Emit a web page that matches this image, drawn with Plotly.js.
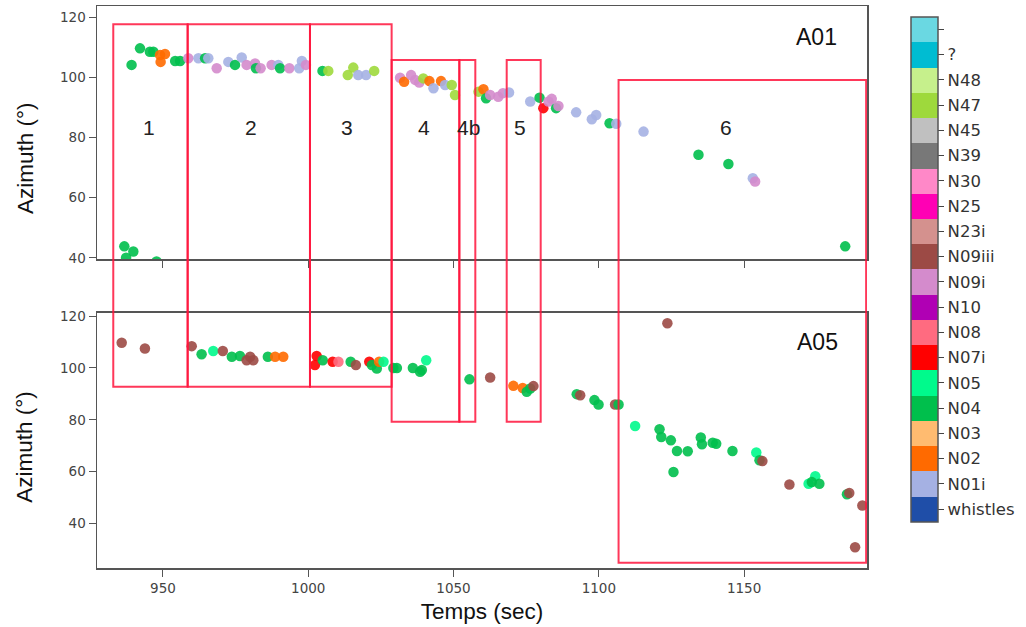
<!DOCTYPE html>
<html>
<head>
<meta charset="utf-8">
<script src="https://cdn.plot.ly/plotly-3.0.1.min.js"></script>
<style>html,body{margin:0;padding:0;background:#fff;}#chart{width:1026px;height:627px;}</style>
</head>
<body>
<div id="chart"></div>
<script>
// Call categories (bottom to top of the colour bar) and their colours
const categories = ["whistles","N01i","N02","N03","N04","N05","N07i","N08","N10","N09i","N09iii","N23i","N25","N30","N39","N45","N47","N48","?",""];
const categoryColors = ["#1f4ea8","#a5b1e3","#ff6a00","#ffbb70","#00bf4c","#00fa8c","#ff0000","#ff6b80","#b000b4","#d48bcc","#9c4a45","#d4918e","#ff00b4","#ff88c8","#787878","#c0c0c0","#9ed93c","#c6f08c","#00bcd2","#6ad8e2"];

// Hydrophone A01
const a01_time = [939.2,942.1,945.5,946.7,949.0,950.7,949.2,954.2,955.9,958.7,962.2,964.5,965.6,968.5,972.5,974.8,977.1,978.8,981.7,982.0,983.6,987.4,989.7,990.3,993.5,996.9,997.8,999.2,1004.9,1006.9,1013.6,1015.5,1017.2,1019.9,1022.7,1031.6,1033.0,1035.4,1036.8,1038.2,1039.6,1041.7,1043.1,1045.7,1047.1,1049.4,1050.5,1058.6,1060.3,1061.2,1062.6,1065.4,1067.0,1069.1,1076.4,1079.6,1080.9,1082.7,1083.8,1085.3,1086.1,1092.2,1097.6,1099.1,1103.7,1106.0,1115.4,1134.3,1144.6,1153.0,1153.8,1184.8,936.7,939.8,937.3,947.8];
const a01_azimuth = [104.2,109.7,108.6,108.6,107.5,107.8,105.2,105.5,105.5,106.4,106.4,106.4,106.4,103.1,105.2,104.2,106.7,104.2,104.7,103.1,103.1,104.2,104.2,103.1,103.1,103.1,105.5,104.2,102.2,102.2,100.8,103.3,100.8,100.8,102.2,99.9,98.6,100.8,99.2,98.3,99.7,98.8,96.4,98.8,97.5,97.5,94.2,95.3,96.1,93.1,94.2,93.6,94.8,95.0,92.0,93.3,89.8,92.0,92.9,89.8,90.5,88.4,86.1,87.5,84.8,84.6,82.0,74.3,71.2,66.5,65.4,43.8,43.8,42.1,40.0,38.8];
const a01_call = ["N04","N04","N04","N04","N02","N02","N02","N04","N04","N09i","N01i","N04","N01i","N09i","N01i","N04","N01i","N09i","N09i","N04","N09i","N09i","N01i","N04","N09i","N01i","N01i","N09i","N04","N47","N47","N47","N01i","N01i","N47","N09i","N02","N09i","N09i","N09i","N47","N02","N01i","N02","N01i","N47","N47","N47","N02","N04","N09i","N09i","N09i","N01i","N01i","N04","N07i","N09i","N09i","N04","N09i","N01i","N01i","N01i","N04","N01i","N01i","N04","N04","N01i","N09i","N04","N04","N04","N04","N04"];

// Hydrophone A05
const a05_time = [935.8,943.8,959.9,963.3,967.3,970.6,973.7,976.5,978.8,980.0,981.1,986.1,988.6,991.4,1002.9,1002.3,1005.0,1008.4,1010.4,1014.6,1016.4,1021.0,1021.9,1023.6,1024.4,1025.9,1029.3,1030.5,1036.0,1038.5,1039.1,1040.6,1055.5,1062.6,1070.6,1073.8,1075.2,1076.4,1077.5,1092.4,1093.6,1098.5,1099.9,1105.6,1106.8,1123.6,1112.5,1120.9,1121.5,1124.8,1126.9,1125.7,1130.6,1135.1,1135.5,1139.2,1140.4,1146.0,1154.2,1155.3,1156.3,1165.6,1172.2,1174.5,1173.3,1175.9,1185.4,1186.2,1190.7,1188.2];
const a05_azimuth = [109.7,107.5,108.4,105.3,106.5,106.5,104.3,104.6,103.0,104.3,103.0,104.3,104.3,104.3,104.6,101.1,103.0,102.4,102.4,102.4,101.1,102.4,101.1,99.8,102.4,102.4,100.0,100.0,100.0,98.5,99.2,103.0,95.6,96.3,93.1,92.3,90.8,92.1,93.0,89.9,89.5,87.6,85.9,85.9,85.9,117.2,77.6,76.4,73.4,72.1,68.0,59.9,67.9,73.2,70.6,71.2,70.8,68.0,67.4,64.4,64.1,55.1,55.4,58.3,56.0,55.4,51.3,51.8,47.0,30.9];
const a05_call = ["N09iii","N09iii","N09iii","N04","N05","N09iii","N04","N04","N09iii","N09iii","N09iii","N04","N02","N02","N07i","N07i","N04","N07i","N08","N04","N09iii","N07i","N04","N04","N02","N05","N04","N04","N04","N04","N04","N05","N04","N09iii","N02","N02","N04","N04","N09iii","N04","N09iii","N04","N04","N09iii","N04","N09iii","N05","N04","N04","N04","N04","N04","N04","N04","N04","N04","N04","N04","N05","N04","N09iii","N09iii","N05","N05","N04","N04","N04","N09iii","N09iii","N09iii"];

// Analysis windows (start, end in seconds) and their labels
const windowLabels = ["1","2","3","4","4b","5","6"];
const windowStart = [932.9,958.5,1000.6,1028.7,1052.0,1068.3,1106.8];
const windowEnd   = [958.5,1000.6,1028.7,1052.0,1057.5,1080.0,1192.0];
const windowLabelX = [945.3,980.4,1013.4,1040.0,1055.2,1072.9,1143.7];

// ---- build ----
const n = categories.length;
const colorscale = [];
categoryColors.forEach((c, i) => { colorscale.push([i / n, c]); colorscale.push([(i + 1) / n, c]); });
const idx = arr => arr.map(c => categories.indexOf(c));

const tickFont = {family: "DejaVu Sans, sans-serif", size: 13.5, color: "#444"};
const titleFont = {family: "Liberation Sans, Arial, sans-serif", size: 22.5, color: "#111"};

const markerBase = {size: 10.5, opacity: 0.9, colorscale: colorscale, cmin: -0.5, cmax: n - 0.5, line: {width: 0}};

const traceA01 = {
  x: a01_time, y: a01_azimuth, type: "scatter", mode: "markers", name: "A01",
  xaxis: "x", yaxis: "y", hoverinfo: "x+y+text", text: a01_call,
  marker: Object.assign({}, markerBase, {
    color: idx(a01_call), showscale: true,
    colorbar: {
      x: 1.0568, xanchor: "left", xpad: 0, ypad: 0,
      y: 0.981, yanchor: "top", len: 0.8986, lenmode: "fraction",
      thickness: 27, thicknessmode: "pixels",
      outlinewidth: 1.5, outlinecolor: "#555", borderwidth: 0,
      tickmode: "array", tickvals: categories.map((_, i) => i), ticktext: categories,
      ticks: "outside", ticklen: 6, tickcolor: "#444", tickwidth: 1,
      tickfont: {family: "DejaVu Sans, sans-serif", size: 16.5, color: "#333"}
    }
  })
};
const traceA05 = {
  x: a05_time, y: a05_azimuth, type: "scatter", mode: "markers", name: "A05",
  xaxis: "x2", yaxis: "y2", hoverinfo: "x+y+text", text: a05_call,
  marker: Object.assign({}, markerBase, {color: idx(a05_call), showscale: false})
};

// window rectangles (spanning both panels, in paper units vertically)
const boxTop =    [0.9674,0.9674,0.9674,0.9039,0.9039,0.9039,0.8683];
const boxBottom = [0.3226,0.3226,0.3226,0.2603,0.2603,0.2603,0.0094];
const shapes = windowStart.map((s, i) => ({
  type: "rect", xref: "x", yref: "paper",
  x0: s, x1: windowEnd[i], y0: boxBottom[i], y1: boxTop[i],
  line: {color: "rgba(255,20,60,0.85)", width: 2}, fillcolor: "rgba(0,0,0,0)", layer: "above"
}));

const annotations = windowLabels.map((t, i) => ({
  text: t, x: windowLabelX[i], y: 83.3, xref: "x", yref: "y", showarrow: false,
  font: {family: "Liberation Sans, Arial, sans-serif", size: 21, color: "#222"}
}));
annotations.push({text: "A01", x: 1175.0, y: 113.6, xref: "x", yref: "y", showarrow: false,
  font: {family: "Liberation Sans, Arial, sans-serif", size: 23, color: "#111"}});
annotations.push({text: "A05", x: 1175.3, y: 110.1, xref: "x2", yref: "y2", showarrow: false,
  font: {family: "Liberation Sans, Arial, sans-serif", size: 23, color: "#111"}});
// y-axis titles of both panels
annotations.push({text: "Azimuth (°)", x: -0.0935, y: 0.7295, xref: "paper", yref: "paper", showarrow: false,
  textangle: -90, xanchor: "center", yanchor: "middle", font: titleFont});
annotations.push({text: "Azimuth (°)", x: -0.0935, y: 0.2158, xref: "paper", yref: "paper", showarrow: false,
  textangle: -90, xanchor: "center", yanchor: "middle", font: titleFont});

const axisCommon = {
  showline: true, linecolor: "#555", linewidth: 1.5, mirror: true,
  ticks: "outside", ticklen: 7, tickcolor: "#555", tickwidth: 1,
  showgrid: false, zeroline: false, tickfont: tickFont
};

const layout = {
  width: 1026, height: 627,
  margin: {l: 97, r: 159, t: 6, b: 59},
  paper_bgcolor: "#fff", plot_bgcolor: "#fff",
  showlegend: false,
  font: {family: "Liberation Sans, Arial, sans-serif"},
  xaxis: Object.assign({}, axisCommon, {domain: [0, 1], anchor: "y", range: [927.3, 1192.3], tickvals: [950,1000,1050,1100,1150], showticklabels: false}),
  yaxis: Object.assign({}, axisCommon, {domain: [0.5493, 1], anchor: "x", range: [39.5, 123.8], tickvals: [40,60,80,100,120]}),
  xaxis2: Object.assign({}, axisCommon, {domain: [0, 1], anchor: "y2", matches: "x", range: [927.3, 1192.3], tickvals: [950,1000,1050,1100,1150],
    title: {text: "Temps (sec)", font: titleFont, standoff: 8}}),
  yaxis2: Object.assign({}, axisCommon, {domain: [0, 0.4543], anchor: "x2", range: [22.9, 121.3], tickvals: [40,60,80,100,120]}),
  shapes: shapes,
  annotations: annotations
};

Plotly.newPlot("chart", [traceA01, traceA05], layout, {displayModeBar: false, staticPlot: true});
</script>
</body>
</html>
